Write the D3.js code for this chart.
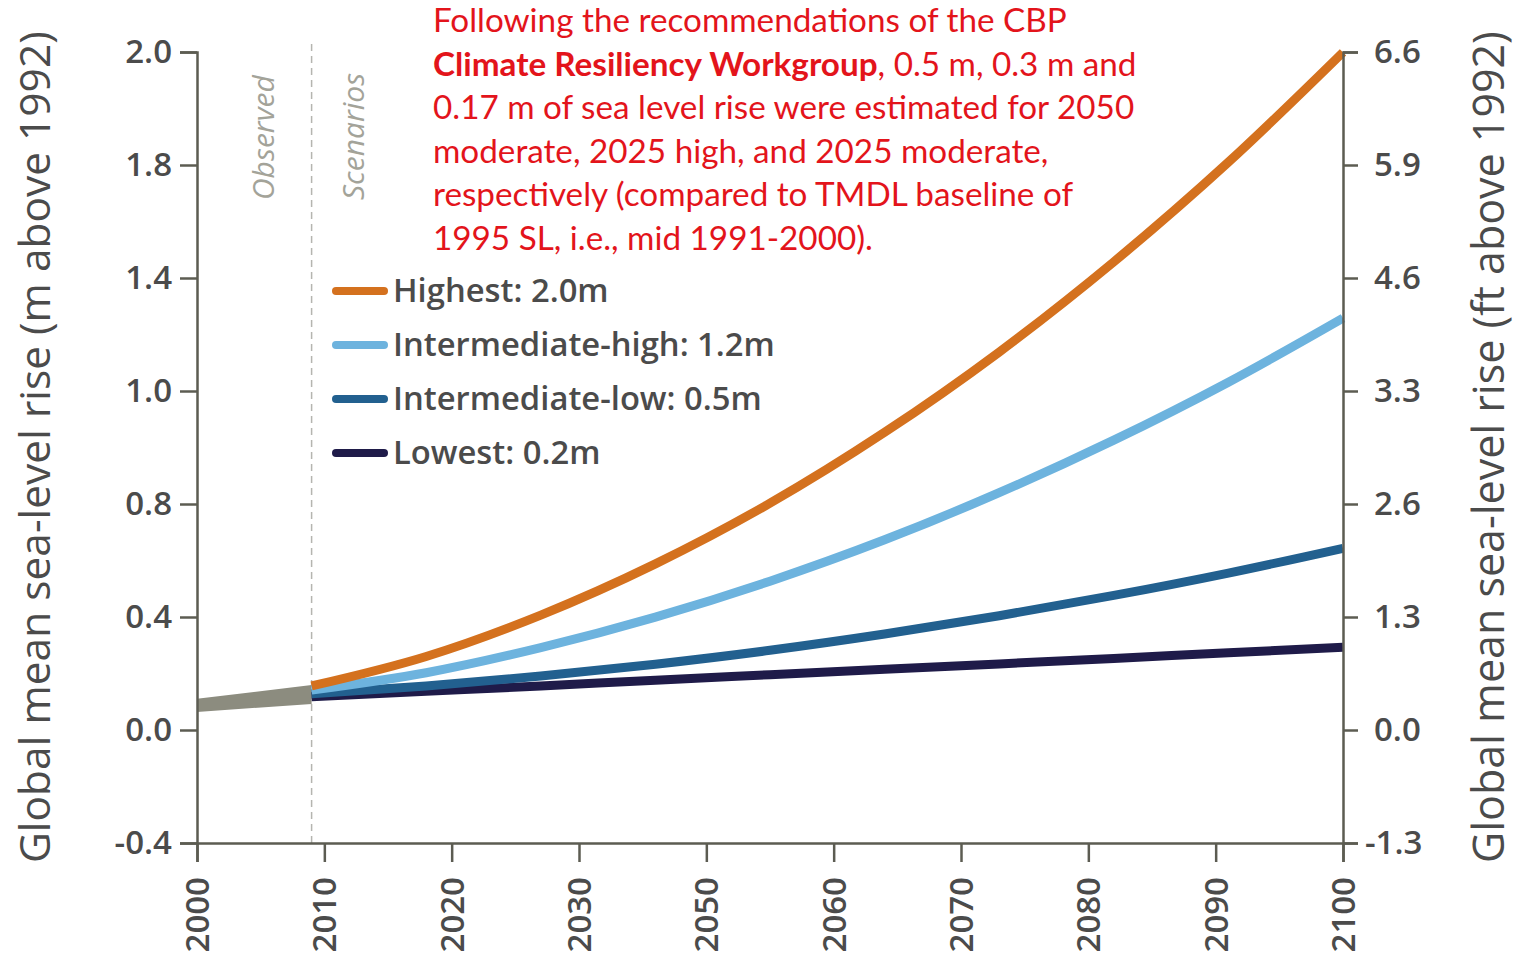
<!DOCTYPE html>
<html>
<head>
<meta charset="utf-8">
<script src="https://cdn.jsdelivr.net/npm/d3@7"></script>
<style>
  html, body { margin: 0; padding: 0; background: #fff; }
  svg { display: block; }
</style>
</head>
<body>
<svg width="1518" height="961"></svg>
<script>
// ***Data (metres on the chart's own scale)***
var scenarioYears = [2010, 2020, 2030, 2040, 2050, 2060, 2070, 2080, 2090, 2100];
var highest  = [0.130, 0.217, 0.339, 0.490, 0.669, 0.878, 1.115, 1.381, 1.675, 1.999];
var intHigh  = [0.118, 0.169, 0.243, 0.333, 0.439, 0.561, 0.700, 0.855, 1.026, 1.215];
var intLow   = [0.107, 0.130, 0.159, 0.194, 0.235, 0.283, 0.337, 0.397, 0.463, 0.536];
var lowest   = [0.098, 0.114, 0.130, 0.147, 0.163, 0.179, 0.195, 0.211, 0.228, 0.244];

var observedYears = [2000, 2010];
var observedLow   = [0.053, 0.077];
var observedHigh  = [0.092, 0.133];

var scenarioNames  = ["Highest: 2.0m", "Intermediate-high: 1.2m", "Intermediate-low: 0.5m", "Lowest: 0.2m"];
var scenarioColors = ["#d4711e", "#6db3de", "#22608f", "#1f1b49"];

var xTickLabels = ["2000", "2010", "2020", "2030", "2050", "2060", "2070", "2080", "2090", "2100"];
var yTickValues = [-1/3, 0, 1/3, 2/3, 1, 4/3, 5/3, 2];
var yLeftLabels  = ["-0.4", "0.0", "0.4", "0.8", "1.0", "1.4", "1.8", "2.0"];
var yRightLabels = ["-1.3", "0.0", "1.3", "2.6", "3.3", "4.6", "5.9", "6.6"];

var noteLines = [
  [["Following the recommendations of the CBP", false]],
  [["Climate Resiliency Workgroup", true], [", 0.5 m, 0.3 m and", false]],
  [["0.17 m of sea level rise were estimated for 2050", false]],
  [["moderate, 2025 high, and 2025 moderate,", false]],
  [["respectively (compared to TMDL baseline of", false]],
  [["1995 SL, i.e., mid 1991-2000).", false]]
];

var axisColor = "#5c5c52";
var textColor = "#4b4b4b";

var svg = d3.select("svg");
var plotLeft = 197, plotRight = 1343, plotTop = 52, plotBottom = 843;

var x = d3.scaleLinear().domain([2000, 2100]).range([plotLeft, plotRight]);
var y = d3.scaleLinear().domain([-1/3, 2]).range([plotBottom, plotTop]);
// tick labels are spread evenly along the bottom axis
var xLabels = d3.scalePoint().domain(xTickLabels).range([plotLeft, plotRight]);

function fitWidth(sel, target) {
  var w = sel.node().getComputedTextLength();
  var fs = parseFloat(sel.attr("font-size"));
  sel.attr("font-size", fs * target / w);
  return fs * target / w;
}

// ***Observed / Scenarios divider***
svg.append("line")
  .attr("x1", x(2010)).attr("x2", x(2010))
  .attr("y1", plotTop - 8).attr("y2", plotBottom)
  .attr("stroke", "#b5b5b0")
  .attr("stroke-width", 1.5)
  .attr("stroke-dasharray", "7,5");

svg.append("text")
  .attr("transform", "translate(" + (x(2010) - 38) + ",200) rotate(-90)")
  .attr("font-family", "Open Sans, sans-serif")
  .attr("font-style", "italic")
  .attr("font-size", 30)
  .attr("fill", "#a3a399")
  .text("Observed");

svg.append("text")
  .attr("transform", "translate(" + (x(2010) + 52) + ",200) rotate(-90)")
  .attr("font-family", "Open Sans, sans-serif")
  .attr("font-style", "italic")
  .attr("font-size", 30)
  .attr("fill", "#a3a399")
  .text("Scenarios");

// ***Curves***
var obs = observedYears.map(function(d, i) { return { year: d, lo: observedLow[i], hi: observedHigh[i] }; });
svg.append("path")
  .datum(obs)
  .attr("fill", "#8c8c7f")
  .attr("d", d3.area()
    .x(function(d) { return x(d.year); })
    .y0(function(d) { return y(d.lo); })
    .y1(function(d) { return y(d.hi); }));

var series = [highest, intHigh, intLow, lowest];
var line = d3.line()
  .curve(d3.curveMonotoneX)
  .x(function(d) { return x(d[0]); })
  .y(function(d) { return y(d[1]); });

// draw lowest first so the highest sits on top
for (var s = series.length - 1; s >= 0; s--) {
  var pts = scenarioYears.map(function(yr, i) { return [yr, series[s][i]]; });
  svg.append("path")
    .datum(pts)
    .attr("fill", "none")
    .attr("stroke", scenarioColors[s])
    .attr("stroke-width", 9)
    .attr("d", line);
}

// ***Axes***
function styleAxis(g) {
  g.select(".domain").attr("stroke", axisColor).attr("stroke-width", 2.5);
  g.selectAll(".tick line").attr("stroke", axisColor).attr("stroke-width", 2.5);
  g.selectAll(".tick text")
    .attr("fill", textColor)
    .attr("font-family", "Open Sans, sans-serif")
    .attr("font-weight", 600)
    .attr("font-size", 33);
}

var gx = svg.append("g")
  .attr("transform", "translate(0," + plotBottom + ")")
  .call(d3.axisBottom(xLabels).tickSizeOuter(0).tickSize(19).tickPadding(14));
styleAxis(gx);
gx.selectAll(".tick text")
  .attr("transform", "rotate(-90)")
  .attr("text-anchor", "end")
  .attr("x", -34)
  .attr("y", 0)
  .attr("dy", "0.35em");

var gl = svg.append("g")
  .attr("transform", "translate(" + plotLeft + ",0)")
  .call(d3.axisLeft(y).tickValues(yTickValues).tickSizeOuter(0).tickSize(17).tickPadding(8)
    .tickFormat(function(d, i) { return yLeftLabels[i]; }));
styleAxis(gl);

var gr = svg.append("g")
  .attr("transform", "translate(" + plotRight + ",0)")
  .call(d3.axisRight(y).tickValues(yTickValues).tickSizeOuter(0).tickSize(15).tickPadding(16)
    .tickFormat(function(d, i) { return yRightLabels[i]; }));
styleAxis(gr);
gr.selectAll(".tick").filter(function(d, i) { return i === 0; }).select("text").attr("x", 22);

// ***Axis titles***
var tl = svg.append("text")
  .attr("transform", "translate(50," + (plotBottom + 20) + ") rotate(-90)")
  .attr("font-family", "Open Sans, sans-serif")
  .attr("font-size", 40)
  .attr("fill", textColor)
  .text("Global mean sea-level rise (m above 1992)");
fitWidth(tl, 832);

var tr = svg.append("text")
  .attr("transform", "translate(1504," + (plotBottom + 20) + ") rotate(-90)")
  .attr("font-family", "Open Sans, sans-serif")
  .attr("font-size", 40)
  .attr("fill", textColor)
  .text("Global mean sea-level rise (ft above 1992)");
fitWidth(tr, 832);

// ***Legend***
var legend = svg.append("g");
scenarioNames.forEach(function(name, i) {
  var ly = 291 + i * 54;
  legend.append("line")
    .attr("x1", 336).attr("x2", 384)
    .attr("y1", ly).attr("y2", ly)
    .attr("stroke", scenarioColors[i])
    .attr("stroke-width", 8)
    .attr("stroke-linecap", "round");
  legend.append("text")
    .attr("class", "legend-text")
    .attr("x", 393).attr("y", ly)
    .attr("dy", "0.35em")
    .attr("font-family", "Open Sans, sans-serif")
    .attr("font-weight", 600)
    .attr("font-size", 30)
    .attr("fill", textColor)
    .text(name);
});
var probe = legend.selectAll(".legend-text").filter(function(d, i) { return i === 1; });
var lfs = fitWidth(probe, 382);
legend.selectAll(".legend-text").attr("font-size", lfs);

// ***Red note***
var note = svg.append("g");
noteLines.forEach(function(parts, i) {
  var t = note.append("text")
    .attr("class", "note-line")
    .attr("x", 433)
    .attr("y", 32 + i * 43.5)
    .attr("font-family", "Lato, sans-serif")
    .attr("font-size", 30)
    .attr("fill", "#e3141b");
  parts.forEach(function(p) {
    t.append("tspan")
      .attr("font-weight", p[1] ? "bold" : "normal")
      .text(p[0]);
  });
});
var first = note.select(".note-line");
var nfs = fitWidth(first, 634);
note.selectAll(".note-line").attr("font-size", nfs);
</script>
</body>
</html>
